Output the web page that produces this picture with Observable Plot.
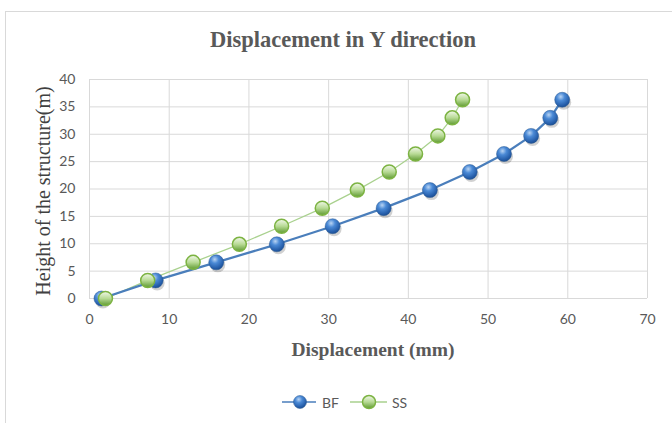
<!DOCTYPE html>
<html>
<head>
<meta charset="utf-8">
<script src="https://cdn.jsdelivr.net/npm/d3@7"></script>
<script src="https://cdn.jsdelivr.net/npm/@observablehq/plot@0.6"></script>
<style>
  html, body { margin: 0; padding: 0; background: #fff; }
  #wrap { position: relative; width: 672px; height: 423px; overflow: hidden; }
  #frame { position: absolute; left: 5px; top: 11px; width: 700px; height: 430px; border-top: 1px solid #d9d9d9; border-left: 1px solid #d9d9d9; }
  #title { position: absolute; left: 343px; top: 29px; line-height: 22px; transform: translateX(-50%); white-space: nowrap; font-family: "Liberation Serif", serif; font-weight: bold; font-size: 22.5px; color: #595959; }
  #ylab { position: absolute; left: 43px; top: 191px; line-height: 20px; transform: translate(-50%, -50%) rotate(-90deg); white-space: nowrap; font-family: "Liberation Serif", serif; font-size: 20px; color: #404040; }
  #xlab { position: absolute; left: 373px; top: 340px; line-height: 19.5px; transform: translateX(-50%); white-space: nowrap; font-family: "Liberation Serif", serif; font-weight: bold; font-size: 19.5px; color: #595959; }
  .lg { position: absolute; top: 393px; height: 18px; display: flex; align-items: center; font-family: Lato, "Liberation Sans", sans-serif; font-size: 14px; color: #595959; }
  .lg svg { display: block; }
  #plot { position: absolute; left: 0; top: 0; }
</style>
</head>
<body>
<div id="wrap">
  <div id="frame"></div>
  <div id="plot"></div>
  <div id="title">Displacement in Y direction</div>
  <div id="ylab">Height of the structure(m)</div>
  <div id="xlab">Displacement (mm)</div>
  <div id="legend"></div>
</div>
<script>
const heights = [0, 3.3, 6.6, 9.9, 13.2, 16.5, 19.8, 23.1, 26.4, 29.7, 33.0, 36.3];
const bfDisp = [1.5, 8.3, 15.9, 23.5, 30.5, 36.9, 42.7, 47.7, 52.0, 55.4, 57.8, 59.3];
const ssDisp = [2.0, 7.3, 13.0, 18.8, 24.1, 29.2, 33.6, 37.6, 40.9, 43.7, 45.5, 46.8];
const seriesNames = ["BF", "SS"];
const xTicks = [0, 10, 20, 30, 40, 50, 60, 70];
const yTicks = [0, 5, 10, 15, 20, 25, 30, 35, 40];

const bf = heights.map((h, i) => ({x: bfDisp[i], y: h, s: "BF"}));
const ss = heights.map((h, i) => ({x: ssDisp[i], y: h, s: "SS"}));

const tickFont = 'Lato, "Liberation Sans", sans-serif';

const chart = Plot.plot({
  width: 672,
  height: 423,
  marginLeft: 89,
  marginRight: 25,
  marginTop: 79,
  marginBottom: 125,
  style: {fontFamily: tickFont, fontSize: "14px", color: "#595959", background: "transparent"},
  x: {domain: [0, 70], ticks: xTicks, tickSize: 0, tickPadding: 16, label: null},
  y: {domain: [0, 40], ticks: yTicks, tickSize: 0, tickPadding: 14, label: null},
  marks: [
    Plot.gridX(xTicks, {stroke: "#d9d9d9", strokeOpacity: 1, strokeWidth: 1}),
    Plot.gridY(yTicks, {stroke: "#d9d9d9", strokeOpacity: 1, strokeWidth: 1}),
    Plot.axisX({ticks: xTicks, tickSize: 0, tickPadding: 16, fill: "#595959", fontSize: 14, label: null}),
    Plot.axisY({ticks: yTicks, tickSize: 0, tickPadding: 14, fill: "#595959", fontSize: 14, label: null}),
    Plot.line(ss, {x: "x", y: "y", stroke: "#a9d18e", strokeWidth: 1.25}),
    Plot.line(bf, {x: "x", y: "y", stroke: "#4a7ebb", strokeWidth: 2.25}),
    Plot.dot(bf, {x: "x", y: "y", r: 7.5, fill: "#000", fillOpacity: 0.18, dx: 1.5, dy: 2.5, stroke: "none"}),
    Plot.dot(bf, {x: "x", y: "y", r: 7.5, fill: "url(#gBF)", stroke: "#2a5b93", strokeWidth: 0.5}),
    Plot.dot(ss, {x: "x", y: "y", r: 7, fill: "url(#gSS)", stroke: "#7cb342", strokeWidth: 1.5})
  ]
});

const defs = `
<defs>
  <radialGradient id="gBF" cx="0.4" cy="0.3" r="0.75">
    <stop offset="0" stop-color="#b9d4f3"/>
    <stop offset="0.35" stop-color="#4b8ad6"/>
    <stop offset="0.8" stop-color="#245ca8"/>
    <stop offset="1" stop-color="#1b4a8a"/>
  </radialGradient>
  <linearGradient id="gSS" x1="0" y1="0" x2="0" y2="1">
    <stop offset="0" stop-color="#f2f8ea"/>
    <stop offset="0.5" stop-color="#b7da94"/>
    <stop offset="1" stop-color="#5f9a32"/>
  </linearGradient>
</defs>`;
chart.insertAdjacentHTML("afterbegin", defs);
document.getElementById("plot").appendChild(chart);

// legend
const legendStyles = {
  BF: {left: 282, w: 34, cx: 18, stroke: "#4a7ebb", sw: 1.5, fill: "url(#gBF)", ms: "#2a5b93", msw: 0.5, gap: 6},
  SS: {left: 350, w: 37, cx: 19, stroke: "#a9d18e", sw: 1.5, fill: "url(#gSS)", ms: "#7cb342", msw: 1.5, gap: 5}
};
const wrap = document.getElementById("wrap");
seriesNames.forEach(name => {
  const st = legendStyles[name];
  const item = document.createElement("div");
  item.className = "lg";
  item.style.left = st.left + "px";
  item.innerHTML = `<svg width="${st.w}" height="18"><line x1="0" x2="${st.w}" y1="9" y2="9" stroke="${st.stroke}" stroke-width="${st.sw}"/><circle cx="${st.cx}" cy="9" r="6.5" fill="${st.fill}" stroke="${st.ms}" stroke-width="${st.msw}"/></svg><span style="margin-left:${st.gap}px">${name}</span>`;
  wrap.appendChild(item);
});
</script>
</body>
</html>
